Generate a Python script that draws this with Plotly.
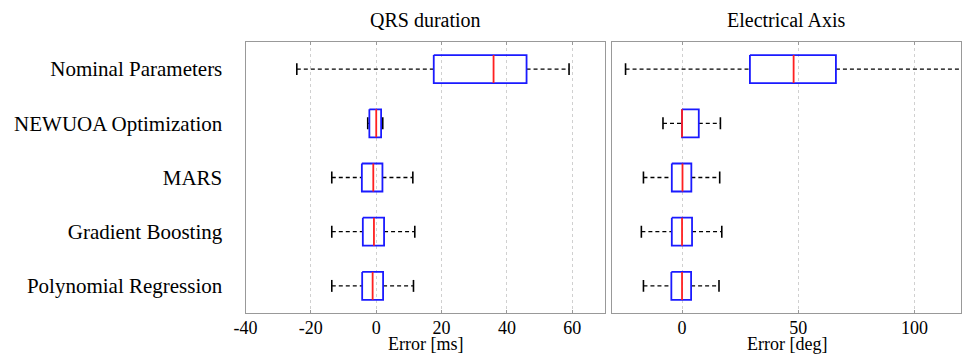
import plotly.graph_objects as go

methods = ["Nominal Parameters", "NEWUOA Optimization", "MARS",
           "Gradient Boosting", "Polynomial Regression"]

# QRS duration error [ms]
qrs_low = [-24.3, -2.6, -13.6, -13.6, -13.6]
qrs_q1 = [17.6, -2.1, -4.4, -4.1, -4.3]
qrs_med = [35.9, 0.0, -0.9, -0.7, -1.1]
qrs_q3 = [46.0, 1.5, 1.9, 2.4, 2.1]
qrs_high = [59.0, 2.0, 11.2, 11.8, 11.4]

# Electrical axis error [deg]
axis_low = [-24.3, -8.2, -16.6, -17.5, -16.6]
axis_q1 = [29.2, 0.0, -4.4, -4.4, -4.6]
axis_med = [48.0, 0.0, 0.2, 0.0, 0.0]
axis_q3 = [66.2, 7.2, 4.0, 4.3, 3.9]
axis_high = [135.0, 16.5, 16.2, 17.1, 15.9]

qrs_ticks = [-40, -20, 0, 20, 40, 60]
qrs_ticktext = ["-40", "-20", "0", "20", "40", "60"]
axis_ticks = [0, 50, 100]
axis_ticktext = ["0", "50", "100"]

FONT = "Liberation Serif, Times New Roman, serif"
BW = 0.258   # half box height
CW = 0.11    # half cap height

fig = go.Figure()


def add_panel(low, q1, med, q3, high, xa, ya):
    bx, by, wx, wy, cx, cy, mx, my = [], [], [], [], [], [], [], []
    for i in range(len(methods)):
        y = i + 1
        bx += [q1[i], q3[i], q3[i], q1[i], q1[i], None]
        by += [y - BW, y - BW, y + BW, y + BW, y - BW, None]
        wx += [low[i], q1[i], None, q3[i], high[i], None]
        wy += [y, y, None, y, y, None]
        cx += [low[i], low[i], None, high[i], high[i], None]
        cy += [y - CW, y + CW, None, y - CW, y + CW, None]
        mx += [med[i], med[i], None]
        my += [y - BW, y + BW, None]
    fig.add_trace(go.Scatter(x=wx, y=wy, mode="lines", xaxis=xa, yaxis=ya,
                             line=dict(color="black", width=1.3, dash="4px,3px"),
                             hoverinfo="skip", showlegend=False))
    fig.add_trace(go.Scatter(x=cx, y=cy, mode="lines", xaxis=xa, yaxis=ya,
                             line=dict(color="black", width=1.6),
                             hoverinfo="skip", showlegend=False))
    fig.add_trace(go.Scatter(x=bx, y=by, mode="lines", xaxis=xa, yaxis=ya,
                             line=dict(color="#1a1aff", width=1.8),
                             hoverinfo="skip", showlegend=False))
    fig.add_trace(go.Scatter(x=mx, y=my, mode="lines", xaxis=xa, yaxis=ya,
                             line=dict(color="#ff2020", width=1.8),
                             hoverinfo="skip", showlegend=False))


add_panel(qrs_low, qrs_q1, qrs_med, qrs_q3, qrs_high, "x", "y")
add_panel(axis_low, axis_q1, axis_med, axis_q3, axis_high, "x2", "y2")

axcommon = dict(showline=True, linecolor="#999999", linewidth=1, mirror="allticks",
                showgrid=True, gridcolor="#d0d0d0", griddash="dot", gridwidth=1,
                zeroline=False, ticks="inside", ticklen=3, tickcolor="#999999",
                automargin=False, ticklabelstandoff=-2,
                tickfont=dict(family=FONT, size=18, color="black"))

fig.update_layout(
    width=962, height=356,
    margin=dict(l=0, r=0, t=42, b=43),
    plot_bgcolor="white", paper_bgcolor="white",
    font=dict(family=FONT, color="black"),
    xaxis=dict(domain=[245.5 / 962, 605 / 962], range=[-40, 70], anchor="y",
               tickvals=qrs_ticks, ticktext=qrs_ticktext, **axcommon),
    xaxis2=dict(domain=[612.3 / 962, 961 / 962], range=[-30, 120], anchor="y2",
                tickvals=axis_ticks, ticktext=axis_ticktext, **axcommon),
    yaxis=dict(domain=[0, 1], range=[5.5, 0.5], tickvals=[1, 2, 3, 4, 5],
               ticktext=methods, showline=True, linecolor="#999999", mirror=True,
               showgrid=False, zeroline=False, ticks="", ticklabelstandoff=18,
               automargin=False,
               tickfont=dict(family=FONT, size=21, color="black")),
    yaxis2=dict(domain=[0, 1], range=[5.5, 0.5], anchor="x2",
                showticklabels=False, showline=True, linecolor="#999999",
                mirror=True, showgrid=False, zeroline=False, ticks="",
                automargin=False),
    annotations=[
        dict(text="QRS duration", x=0.5, xref="x domain", y=1, yref="paper",
             yanchor="middle", yshift=22, showarrow=False,
             font=dict(family=FONT, size=20, color="black")),
        dict(text="Electrical Axis", x=0.5, xref="x2 domain", y=1, yref="paper",
             yanchor="middle", yshift=22, showarrow=False,
             font=dict(family=FONT, size=20, color="black")),
        dict(text="Error [ms]", x=0.5, xref="x domain", y=0, yref="paper",
             yanchor="bottom", yshift=-43, showarrow=False,
             font=dict(family=FONT, size=18, color="black")),
        dict(text="Error [deg]", x=0.5, xref="x2 domain", y=0, yref="paper",
             yanchor="bottom", yshift=-43, showarrow=False,
             font=dict(family=FONT, size=18, color="black")),
    ],
)

fig.write_html("out.html", config={"displayModeBar": False},
               post_script="document.body.style.margin='0';"
                           "document.body.style.padding='0';")
